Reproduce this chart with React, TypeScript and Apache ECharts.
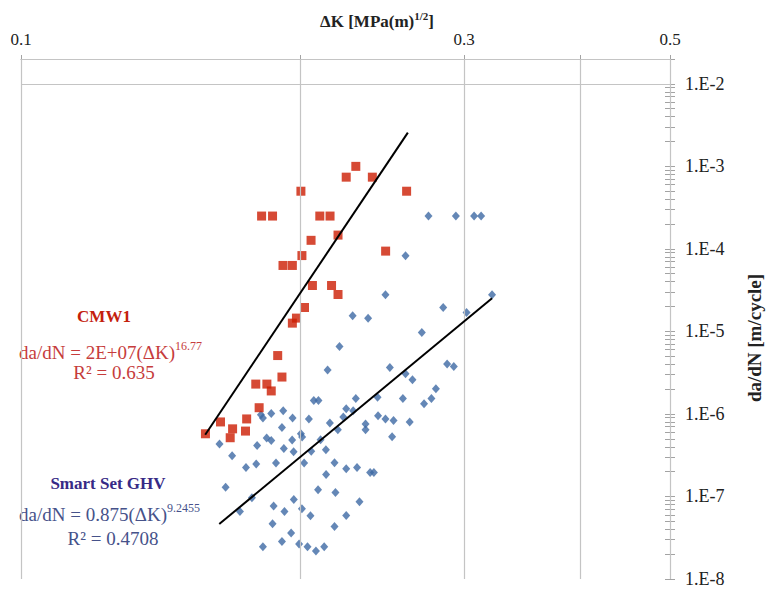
import React, { useEffect, useRef } from "react";
import * as echarts from "echarts";

// ---- data (ΔK in MPa·m^1/2, da/dN in m/cycle) ----
const redK = [0.158, 0.164, 0.169, 0.168, 0.175, 0.1745, 0.1805, 0.179, 0.184, 0.186, 0.191, 0.189, 0.196, 0.198, 0.202, 0.2195, 0.206, 0.216, 0.1915, 0.196, 0.2007, 0.247, 0.2053, 0.2195, 0.1816, 0.1866, 0.2098, 0.2152, 0.2002, 0.2602, 0.224, 0.239, 0.2294];
const redRate = [5.75e-7, 8.0e-7, 6.6e-7, 5.15e-7, 8.7e-7, 6.2e-7, 1.19e-6, 2.3e-6, 2.3e-6, 1.9e-6, 2.8e-6, 5.1e-6, 1.26e-5, 1.45e-5, 1.95e-5, 2.8e-5, 3.6e-5, 3.6e-5, 6.3e-5, 6.3e-5, 8.3e-5, 9.4e-5, 1.27e-4, 1.47e-4, 2.5e-4, 2.5e-4, 2.5e-4, 2.5e-4, 5.0e-4, 5.0e-4, 7.4e-4, 7.4e-4, 1.0e-3];

const blueK = [0.2747, 0.294, 0.3076, 0.313, 0.2595, 0.2469, 0.3216, 0.2849, 0.3019, 0.2276, 0.2365, 0.2702, 0.2203, 0.2139, 0.2496, 0.2595, 0.264, 0.2877, 0.2925, 0.2798, 0.2767, 0.2717, 0.2294, 0.2421, 0.2578, 0.2067, 0.2091, 0.224, 0.2279, 0.1916, 0.186, 0.1813, 0.1822, 0.1961, 0.2042, 0.2224, 0.2424, 0.2469, 0.2519, 0.2622, 0.235, 0.235, 0.2151, 0.2194, 0.191, 0.251, 0.2002, 0.2008, 0.1839, 0.186, 0.1959, 0.2102, 0.1636, 0.1796, 0.1919, 0.1966, 0.213, 0.2054, 0.1688, 0.1882, 0.2018, 0.1792, 0.1747, 0.2176, 0.224, 0.2301, 0.2377, 0.2399, 0.2131, 0.1661, 0.2089, 0.2181, 0.1773, 0.1967, 0.2315, 0.1721, 0.1871, 0.1922, 0.2007, 0.205, 0.224, 0.1866, 0.2176, 0.1954, 0.191, 0.1822, 0.1993, 0.2035, 0.2078, 0.2121];
const blueRate = [2.5e-4, 2.5e-4, 2.5e-4, 2.5e-4, 8.27e-5, 2.79e-5, 2.79e-5, 1.95e-5, 1.7e-5, 1.55e-5, 1.44e-5, 9.72e-6, 6.58e-6, 3.41e-6, 3.66e-6, 3.07e-6, 2.6e-6, 4.03e-6, 3.77e-6, 2.02e-6, 1.54e-6, 1.33e-6, 1.54e-6, 1.59e-6, 1.54e-6, 1.46e-6, 1.46e-6, 1.16e-6, 1.09e-6, 1.09e-6, 1.01e-6, 9.78e-7, 8.92e-7, 8.92e-7, 8.67e-7, 9.17e-7, 9.51e-7, 8.67e-7, 8.34e-7, 7.98e-7, 7.54e-7, 6.43e-7, 7.76e-7, 6.43e-7, 6.86e-7, 5.29e-7, 5.75e-7, 5.25e-7, 5.1e-7, 4.77e-7, 4.83e-7, 4.87e-7, 4.32e-7, 4.15e-7, 3.82e-7, 3.48e-7, 3.68e-7, 3.53e-7, 3.11e-7, 2.54e-7, 2.54e-7, 2.47e-7, 2.25e-7, 2.56e-7, 2.17e-7, 2.25e-7, 1.95e-7, 1.95e-7, 1.85e-7, 1.29e-7, 1.21e-7, 1.12e-7, 9.64e-8, 9.2e-8, 8.63e-8, 6.58e-8, 7.65e-8, 6.58e-8, 7.09e-8, 5.84e-8, 5.88e-8, 4.67e-8, 4.33e-8, 3.6e-8, 2.85e-8, 2.46e-8, 2.65e-8, 2.46e-8, 2.18e-8, 2.46e-8];

// power-law trend lines (straight on log-log axes): end points
const redTrendK = [0.1579, 0.261];
const redTrendRate = [5.6e-7, 2.56e-3];
const blueTrendK = [0.1635, 0.3216];
const blueTrendRate = [4.63e-8, 2.53e-5];

// axes
const xMin = 0.1;
const xMax = 0.5;
const xGridValues = [0.1, 0.2, 0.3, 0.4, 0.5];
const xLabelValues = [0.1, 0.3, 0.5];
const yMin = 1e-8;
const yMax = 0.02;
const yLabelValues = [1e-8, 1e-7, 1e-6, 1e-5, 1e-4, 1e-3, 1e-2];
const yGridValues = [1e-8, 1e-7, 1e-6, 1e-5, 1e-4, 1e-3, 1e-2, 0.02];

const FONT = "Liberation Serif";

function minorTicks(): number[] {
  const out: number[] = [];
  for (let e = -8; e <= -3; e++) {
    for (let k = 1; k <= 9; k++) out.push(Number((k * Math.pow(10, e)).toPrecision(3)));
  }
  out.push(1e-2, 2e-2);
  return out;
}

export default function App() {
  const ref = useRef<HTMLDivElement>(null);
  useEffect(() => {
    if (!ref.current) return;
    const chart = echarts.init(ref.current, undefined, { renderer: "svg" });
    const yTicks = minorTicks();
    const axisGray = "#a3a3a3";
    const yAxisBase = {
      type: "log",
      logBase: 10,
      min: yMin,
      max: yMax,
      position: "right",
      splitLine: { show: false },
      minorTick: { show: false },
      minorSplitLine: { show: false },
    };
    const option: any = {
      animation: false,
      backgroundColor: "#ffffff",
      grid: { left: 21, right: 97, top: 59, bottom: 10, containLabel: false, outerBoundsMode: "none" },
      xAxis: {
        type: "log",
        logBase: 10,
        min: xMin,
        max: xMax,
        position: "top",
        axisLine: { show: true, lineStyle: { color: axisGray, width: 1 } },
        axisTick: { show: true, customValues: xGridValues, length: 4, lineStyle: { color: axisGray } },
        axisLabel: {
          show: true,
          customValues: xLabelValues,
          formatter: (v: number) => v.toFixed(1),
          fontFamily: FONT,
          fontSize: 17,
          color: "#222",
          margin: 11,
        },
        splitLine: { show: false },
        minorTick: { show: false },
      },
      yAxis: [
        {
          ...yAxisBase,
          axisLine: { show: true, lineStyle: { color: axisGray, width: 1 } },
          axisTick: { show: true, customValues: yTicks, length: 5, lineStyle: { color: axisGray } },
          axisLabel: {
            show: true,
            customValues: yLabelValues,
            formatter: (v: number) => "1.E" + Math.round(Math.log10(v)),
            fontFamily: FONT,
            fontSize: 18,
            color: "#222",
            margin: 15,
          },
        },
        {
          ...yAxisBase,
          axisLine: { show: false },
          axisTick: { show: true, inside: true, customValues: yTicks, length: 5, lineStyle: { color: axisGray } },
          axisLabel: { show: false },
        },
      ],
      graphic: [
        {
          type: "text",
          x: 377,
          y: 20,
          style: {
            text: "{b|ΔK [MPa(m)}{s|1/2}{b|]}",
            align: "center",
            verticalAlign: "middle",
            rich: {
              b: { fontFamily: FONT, fontWeight: "bold", fontSize: 17, fill: "#222", lineHeight: 20, verticalAlign: "bottom" },
              s: { fontFamily: FONT, fontWeight: "bold", fontSize: 11, fill: "#222", lineHeight: 20, verticalAlign: "top" },
            },
          },
        },
        {
          type: "text",
          x: 754,
          y: 338,
          rotation: Math.PI / 2,
          style: {
            text: "da/dN [m/cycle]",
            fontFamily: FONT,
            fontWeight: "bold",
            fontSize: 19,
            fill: "#222",
            align: "center",
            verticalAlign: "middle",
          },
        },
        {
          type: "text",
          x: 104,
          y: 316,
          style: { text: "CMW1", fontFamily: FONT, fontWeight: "bold", fontSize: 17, fill: "#c4200c", align: "center", verticalAlign: "middle" },
        },
        {
          type: "text",
          x: 19,
          y: 351,
          style: {
            text: "{m|da/dN = 2E+07(ΔK)}{s|16.77}",
            align: "left",
            verticalAlign: "middle",
            rich: {
              m: { fontFamily: FONT, fontSize: 19, fill: "#c63c3c", lineHeight: 22, verticalAlign: "bottom" },
              s: { fontFamily: FONT, fontSize: 12, fill: "#c63c3c", lineHeight: 22, verticalAlign: "top" },
            },
          },
        },
        {
          type: "text",
          x: 114,
          y: 372,
          style: { text: "R² = 0.635", fontFamily: FONT, fontSize: 19, fill: "#c63c3c", align: "center", verticalAlign: "middle" },
        },
        {
          type: "text",
          x: 108,
          y: 483,
          style: { text: "Smart Set GHV", fontFamily: FONT, fontWeight: "bold", fontSize: 17, fill: "#372a86", align: "center", verticalAlign: "middle" },
        },
        {
          type: "text",
          x: 19,
          y: 513,
          style: {
            text: "{m|da/dN = 0.875(ΔK)}{s|9.2455}",
            align: "left",
            verticalAlign: "middle",
            rich: {
              m: { fontFamily: FONT, fontSize: 19, fill: "#46528a", lineHeight: 22, verticalAlign: "bottom" },
              s: { fontFamily: FONT, fontSize: 12, fill: "#46528a", lineHeight: 22, verticalAlign: "top" },
            },
          },
        },
        {
          type: "text",
          x: 113,
          y: 538,
          style: { text: "R² = 0.4708", fontFamily: FONT, fontSize: 19, fill: "#46528a", align: "center", verticalAlign: "middle" },
        },
      ],
      series: [
        {
          name: "grid",
          type: "line",
          data: [],
          silent: true,
          z: 1,
          markLine: {
            silent: true,
            symbol: ["none", "none"],
            label: { show: false },
            lineStyle: { color: "#c4c4c4", width: 1.2, type: "solid" },
            data: [
              ...xGridValues.map((v) => ({ xAxis: v })),
              ...yGridValues.map((v) => ({ yAxis: v })),
            ],
          },
        },
        {
          name: "Smart Set GHV",
          type: "scatter",
          z: 3,
          symbol: "diamond",
          symbolSize: [8, 9],
          itemStyle: { color: "#3d69a4" },
          data: blueK.map((k, i) => [k, blueRate[i]]),
        },
        {
          name: "CMW1",
          type: "scatter",
          z: 4,
          symbol: "rect",
          symbolSize: 9,
          itemStyle: { color: "#cc1d02" },
          data: redK.map((k, i) => [k, redRate[i]]),
        },
        {
          name: "CMW1 trend",
          type: "line",
          z: 5,
          showSymbol: false,
          symbol: "none",
          lineStyle: { color: "#000", width: 2 },
          data: redTrendK.map((k, i) => [k, redTrendRate[i]]),
        },
        {
          name: "GHV trend",
          type: "line",
          z: 5,
          showSymbol: false,
          symbol: "none",
          lineStyle: { color: "#000", width: 2 },
          data: blueTrendK.map((k, i) => [k, blueTrendRate[i]]),
        },
      ],
    };
    chart.setOption(option);
    return () => chart.dispose();
  }, []);
  return (
    <div
      ref={ref}
      style={{ position: "fixed", left: 0, top: 0, width: 767, height: 589, background: "#fff" }}
    />
  );
}
